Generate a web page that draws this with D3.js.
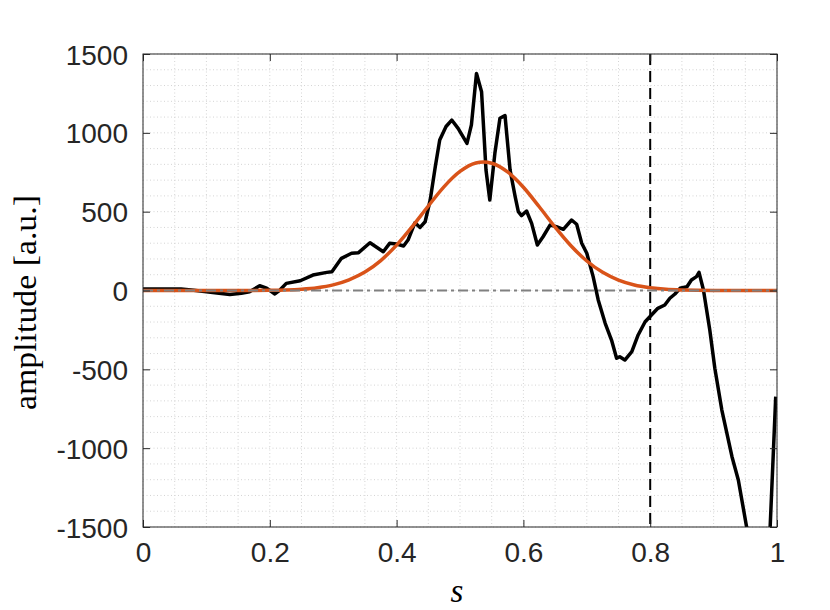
<!DOCTYPE html>
<html>
<head>
<meta charset="utf-8">
<script src="https://cdn.jsdelivr.net/npm/d3@7"></script>
<style>
  body { margin: 0; background: #fff; }
  svg { display: block; }
</style>
</head>
<body>
<svg id="chart" width="830" height="610"></svg>
<script>
// ---- data ----
const sBlack = [0.000,0.030,0.060,0.080,0.100,0.120,0.137,0.155,0.168,0.184,0.195,0.208,0.216,0.226,0.248,0.268,0.290,0.298,0.313,0.329,0.340,0.358,0.379,0.389,0.400,0.411,0.418,0.429,0.437,0.445,0.453,0.461,0.468,0.478,0.487,0.497,0.511,0.518,0.526,0.534,0.541,0.547,0.555,0.563,0.571,0.579,0.587,0.592,0.597,0.605,0.613,0.622,0.631,0.642,0.652,0.663,0.676,0.684,0.692,0.700,0.710,0.718,0.729,0.739,0.747,0.752,0.760,0.771,0.781,0.792,0.802,0.812,0.823,0.831,0.839,0.847,0.858,0.865,0.873,0.877,0.884,0.894,0.902,0.913,0.929,0.939,0.952,0.965,0.978,0.986,0.998];
const ampBlack = [10,10,10,2,-8,-18,-25,-18,-8,30,15,-22,3,45,62,98,115,119,204,236,240,303,246,299,295,282,320,430,400,436,574,785,955,1040,1081,1028,933,1050,1377,1261,764,574,870,1092,1110,764,595,500,475,504,426,289,341,415,405,388,447,420,300,236,88,-60,-208,-314,-430,-420,-441,-388,-282,-198,-155,-113,-92,-49,-22,14,24,67,88,115,3,-250,-495,-758,-1054,-1202,-1498,-1750,-1900,-1800,-673];

const sFit = [0.00,0.10,0.15,0.20,0.225,0.25,0.275,0.30,0.325,0.35,0.375,0.40,0.425,0.45,0.475,0.50,0.525,0.537,0.55,0.575,0.60,0.625,0.65,0.675,0.70,0.725,0.75,0.775,0.80,0.825,0.85,0.90,1.00];
const ampFit = [0,0,0.2,1.5,3.7,8.5,18,36,68,117,190,288,407,536,659,755,809,815,807,752,655,531,402,284,187,115,66,35,18,8,3.6,0.5,0];

const xTicks = [0,0.2,0.4,0.6,0.8,1];
const xTickLabels = ["0","0.2","0.4","0.6","0.8","1"];
const yTicks = [-1500,-1000,-500,0,500,1000,1500];
const yTickLabels = ["-1500","-1000","-500","0","500","1000","1500"];
const markerS = 0.8;

// ---- layout ----
const L = 143, R = 777, T = 54, B = 527;
const svg = d3.select("#chart");
const x = d3.scaleLinear().domain([0,1]).range([L,R]);
const y = d3.scaleLinear().domain([-1500,1500]).range([B,T]);
const txt = "#262626";

// minor + major grid (dotted)
const gx = d3.range(0, 1.0001, 0.05);
const gy = d3.range(-1500, 1500.1, 100);
svg.append("g").selectAll("line").data(gx).join("line")
  .attr("x1", d => x(d)).attr("x2", d => x(d)).attr("y1", T).attr("y2", B)
  .attr("stroke", "#d4d4d4").attr("stroke-width", 1).attr("stroke-dasharray", "1,2.5");
svg.append("g").selectAll("line").data(gy).join("line")
  .attr("y1", d => y(d)).attr("y2", d => y(d)).attr("x1", L).attr("x2", R)
  .attr("stroke", "#d4d4d4").attr("stroke-width", 1).attr("stroke-dasharray", "1,2.5");

// clip
svg.append("clipPath").attr("id","clip").append("rect")
  .attr("x", L).attr("y", T).attr("width", R-L).attr("height", B-T);

const plot = svg.append("g").attr("clip-path","url(#clip)");

// black measured curve
plot.append("path")
  .datum(sBlack.map((s,i)=>[s,ampBlack[i]]))
  .attr("fill","none").attr("stroke","#000").attr("stroke-width",3.5)
  .attr("stroke-linejoin","round")
  .attr("d", d3.line().x(d=>x(d[0])).y(d=>y(d[1])));

// orange fit
plot.append("path")
  .datum(sFit.map((s,i)=>[s,ampFit[i]]))
  .attr("fill","none").attr("stroke","#D95319").attr("stroke-width",3.5)
  .attr("d", d3.line().curve(d3.curveMonotoneX).x(d=>x(d[0])).y(d=>y(d[1])));

// zero dash-dot line
plot.append("line")
  .attr("x1", x(0)).attr("x2", x(1)).attr("y1", y(0)).attr("y2", y(0))
  .attr("stroke","#808080").attr("stroke-width",2).attr("stroke-dasharray","10,4,3,4");

// vertical dashed marker
plot.append("line")
  .attr("x1", x(markerS)).attr("x2", x(markerS)).attr("y1", T).attr("y2", B)
  .attr("stroke","#000").attr("stroke-width",2).attr("stroke-dasharray","11,6");

// axes box
svg.append("rect").attr("x", L).attr("y", T).attr("width", R-L).attr("height", B-T)
  .attr("fill","none").attr("stroke", txt).attr("stroke-width",1);

// axes with inward ticks on all four sides
const tickLen = 7;
const axB = d3.axisBottom(x).tickValues(xTicks).tickSize(-tickLen).tickFormat((d,i)=>xTickLabels[i]).tickPadding(14);
const axT = d3.axisTop(x).tickValues(xTicks).tickSize(-tickLen).tickFormat("");
const axL = d3.axisLeft(y).tickValues(yTicks).tickSize(-tickLen).tickFormat(d=>yTickLabels[yTicks.indexOf(d)]).tickPadding(15);
const axR = d3.axisRight(y).tickValues(yTicks).tickSize(-tickLen).tickFormat("");

function style(g){
  g.select(".domain").remove();
  g.selectAll(".tick line").attr("stroke", txt).attr("stroke-width",1);
  g.selectAll(".tick text").attr("fill", txt)
    .style("font-family","'Liberation Sans', Arial, sans-serif").style("font-size","28px");
}
svg.append("g").attr("transform",`translate(0,${B})`).call(axB).call(style)
  .selectAll(".tick text").attr("dy","0.71em").attr("y", 15);
svg.append("g").attr("transform",`translate(0,${T})`).call(axT).call(style);
svg.append("g").attr("transform",`translate(${L},0)`).call(axL).call(style)
  .selectAll(".tick text").attr("dy","0.36em");
svg.append("g").attr("transform",`translate(${R},0)`).call(axR).call(style);

// axis labels
svg.append("text")
  .attr("transform", `translate(36,${(T+B)/2 + 12}) rotate(-90)`)
  .attr("text-anchor","middle")
  .attr("fill","#000")
  .attr("textLength", 215)
  .attr("lengthAdjust", "spacingAndGlyphs")
  .style("font-family","'Liberation Serif', 'DejaVu Serif', serif")
  .style("font-size","31px")
  .text("amplitude [a.u.]");
svg.append("text")
  .attr("x", (L+R)/2 - 3).attr("y", 602)
  .attr("text-anchor","middle")
  .attr("fill","#000")
  .style("font-family","'Liberation Serif', 'DejaVu Serif', serif")
  .style("font-style","italic")
  .style("font-size","33px")
  .text("s");
</script>
</body>
</html>
